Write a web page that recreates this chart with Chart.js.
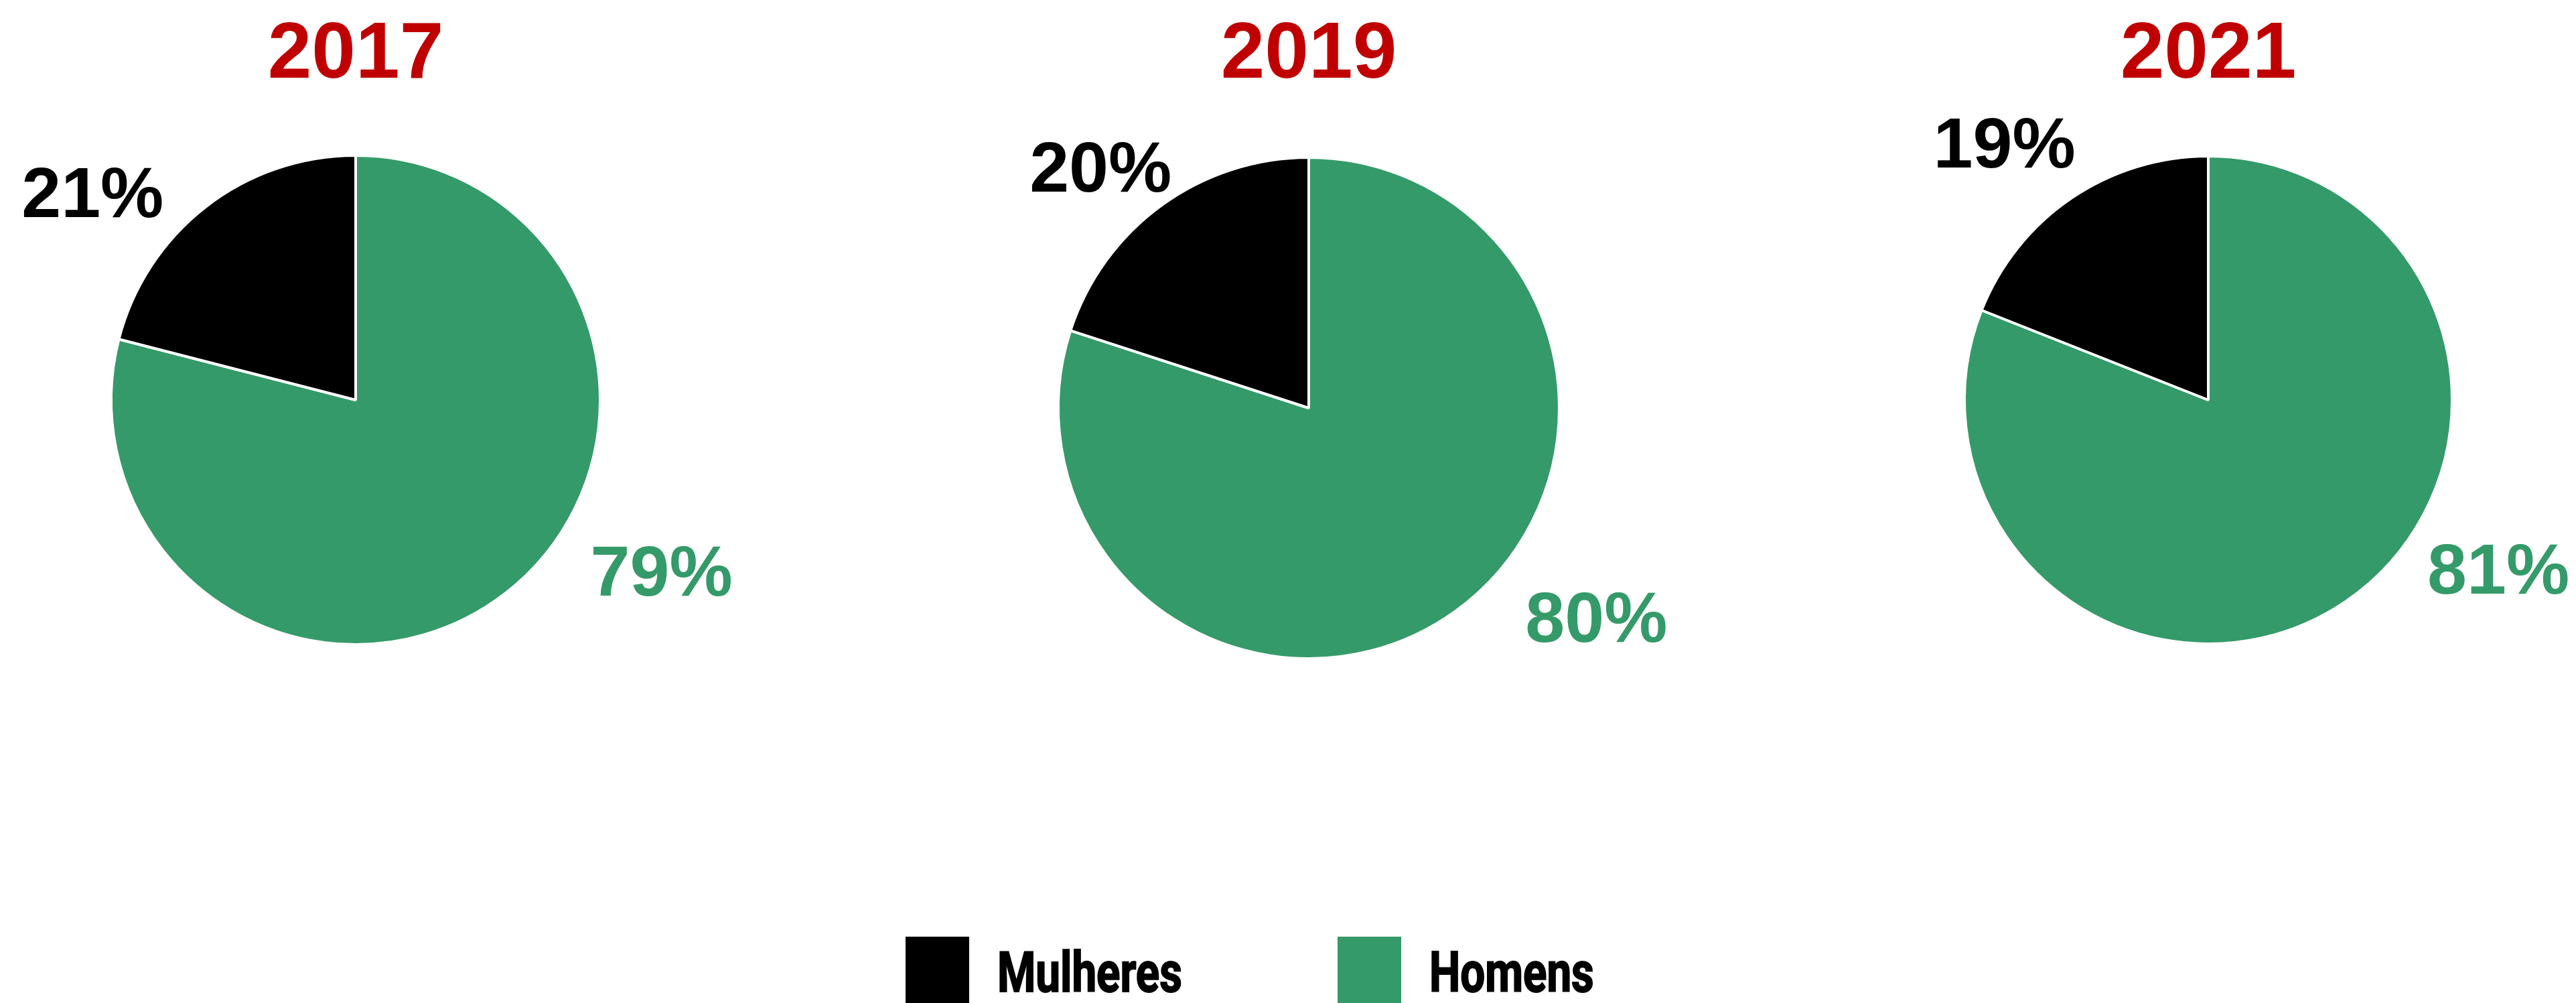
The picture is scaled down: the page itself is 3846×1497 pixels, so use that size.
<!DOCTYPE html>
<html lang="pt">

<head>
    <meta charset="UTF-8">
    <title>Mulheres e Homens</title>
    <script src="https://cdn.jsdelivr.net/npm/chart.js"></script>
    <style>
        body {
            margin: 0;
            background: #ffffff;
        }

        .board {
            position: relative;
            width: 3846px;
            height: 1497px;
            overflow: hidden;
            background: #ffffff;
        }

        .board canvas {
            position: absolute;
            top: 0;
        }

        .legend-box {
            position: absolute;
            width: 95px;
            height: 110px;
        }

        /* narrow heavy face for the legend names */
        .legend-text {
            position: absolute;
            font-family: Roboto, "Liberation Sans", sans-serif;
            font-weight: bold;
            font-size: 84px;
            line-height: 84px;
            color: #000000;
            white-space: nowrap;
            transform: scaleX(0.78);
            transform-origin: left center;
            -webkit-text-stroke: 2px #000000;
        }
    </style>
</head>

<body>
    <div class="board" id="board">
        <canvas id="pie0" width="1282" height="1100" style="left:0px"></canvas>
        <canvas id="pie1" width="1282" height="1100" style="left:1282px"></canvas>
        <canvas id="pie2" width="1282" height="1100" style="left:2564px"></canvas>
    </div>

    <script>
        // Data
        const years = ['2017', '2019', '2021'];
        const categories = ['Mulheres', 'Homens'];
        const mulheres = [21, 20, 19];
        const homens = [79, 80, 81];

        const colors = { Mulheres: '#000000', Homens: '#359A69' };
        const titleColor = '#C00000';

        // Where each pie sits inside its canvas (center + radius)
        const pieLayout = [
            { cx: 531, cy: 597, r: 367 },
            { cx: 672, cy: 609, r: 376 },
            { cx: 733, cy: 597, r: 366 }
        ];
        // Label anchors relative to the pie center, in radius units: [Mulheres, Homens]
        const labelSpots = [
            [[-1.076, -0.853], [1.251, 0.695]],
            [[-0.831, -0.965], [1.148, 0.830]],
            [[-0.836, -1.059], [1.190, 0.689]]
        ];

        const CANVAS_W = 1282, CANVAS_H = 1100;

        // Title above the pie and percentage labels outside the slices
        const pieText = {
            id: 'pieText',
            afterDatasetsDraw(chart, args, opts) {
                const ctx = chart.ctx;
                const arc = chart.getDatasetMeta(0).data[0];
                const cx = arc.x, cy = arc.y, r = arc.outerRadius;
                ctx.save();
                ctx.textAlign = 'center';
                ctx.textBaseline = 'alphabetic';

                ctx.font = 'bold 118px "Liberation Sans", Arial, sans-serif';
                ctx.fillStyle = titleColor;
                ctx.fillText(opts.year, cx, 116);

                ctx.font = 'bold 106px "Liberation Sans", Arial, sans-serif';
                chart.data.labels.forEach((label, i) => {
                    const spot = opts.spots[categories.indexOf(label)];
                    ctx.fillStyle = colors[label];
                    ctx.fillText(chart.data.datasets[0].data[i] + '%',
                        cx + spot[0] * r, cy + spot[1] * r + 0.36 * 106);
                });
                ctx.restore();
            }
        };

        years.forEach((year, k) => {
            const p = pieLayout[k];
            const labels = ['Homens', 'Mulheres'];
            new Chart(document.getElementById('pie' + k), {
                type: 'pie',
                data: {
                    labels: labels,
                    datasets: [{
                        data: [homens[k], mulheres[k]],
                        backgroundColor: labels.map(l => colors[l]),
                        borderColor: '#ffffff',
                        borderWidth: 4,
                        hoverOffset: 0
                    }]
                },
                options: {
                    responsive: false,
                    animation: false,
                    events: [],
                    layout: {
                        padding: {
                            left: p.cx - p.r,
                            right: CANVAS_W - p.cx - p.r,
                            top: p.cy - p.r,
                            bottom: CANVAS_H - p.cy - p.r
                        }
                    },
                    plugins: {
                        legend: { display: false },
                        tooltip: { enabled: false },
                        pieText: { year: year, spots: labelSpots[k] }
                    }
                },
                plugins: [pieText]
            });
        });

        // Legend along the bottom
        const board = document.getElementById('board');
        const legendX = [1352, 1997];
        categories.forEach((name, i) => {
            const box = document.createElement('div');
            box.className = 'legend-box';
            box.style.left = legendX[i] + 'px';
            box.style.top = '1398px';
            box.style.background = colors[name];
            board.appendChild(box);

            const txt = document.createElement('div');
            txt.className = 'legend-text';
            txt.style.left = (legendX[i] + 137) + 'px';
            txt.style.top = '1410px';
            txt.textContent = name;
            board.appendChild(txt);
        });
    </script>
</body>

</html>
